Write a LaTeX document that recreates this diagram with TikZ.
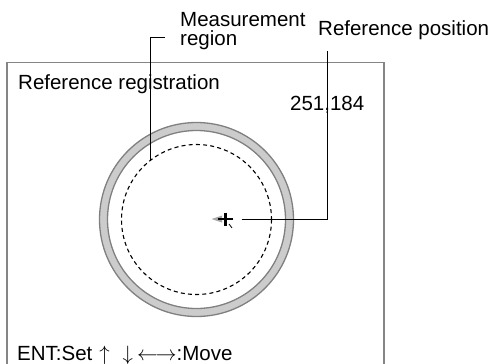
\documentclass[tikz,border=0pt]{standalone}
\usepackage{fontspec}
\setmainfont{Liberation Sans}
\usetikzlibrary{positioning}

\begin{document}
\begin{tikzpicture}[
  x=1pt, y=-1pt,
  lbl/.style={anchor=base west, inner sep=0pt, align=left,
              font=\fontsize{20.5}{19.5}\selectfont},
  frame/.style={draw=black!48, line width=1.8pt},
  ringline/.style={draw=black!50, line width=1.3pt},
  lead/.style={draw=black, line width=0.8pt}]

\useasboundingbox (0,0) rectangle (498,364);

% screen frame
\draw[frame] (7,364) |- (384,62.5) -- (384,364);

% ring and measurement region
\coordinate (ctr) at (196.5,219.5);
\draw[black!20, line width=8pt] (ctr) circle[radius=93];
\draw[ringline] (ctr) circle[radius=97];
\draw[ringline] (ctr) circle[radius=89];
\draw[dashed, line width=1.1pt, dash pattern=on 4pt off 3.2pt] (ctr) circle[radius=75];

% reference position mark
\coordinate (mark) at (225.5,219);
\fill[black!35] (211.5,219) -- (222,215.5) -- (222,222.5) -- cycle;
\draw[line width=2.6pt] (218,219) -- (232.5,219);
\draw[line width=2.6pt] (225.5,212.5) -- (225.5,225.5);
\draw[line width=0.8pt] (229,224) -- (232,228);

% texts
\node[lbl] (title) at (18,89)   {Reference registration};
\node[lbl] (pos)   at (290,110) {251,184};
\node[lbl] (meas)  at (180,45.5){Measurement\\region};
\node[lbl] (refp)  at (318,35)  {Reference position};
\node[lbl] (keys)  at (17,360)  {ENT:Set\hspace{7pt}$\uparrow$\hspace{13pt}$\downarrow$\hspace{4pt}$\leftarrow$\hspace{-2pt}$\rightarrow$:Move};

% leaders
\coordinate (mpt)  at (150.7,160.5);
\coordinate (mend) at (165,37);
\coordinate (rpt)  at (241.5,219);
\coordinate (rend) at (327.5,51);
\draw[lead] (mpt) |- (mend);
\draw[lead] (rpt) -| (rend);
\end{tikzpicture}
\end{document}
